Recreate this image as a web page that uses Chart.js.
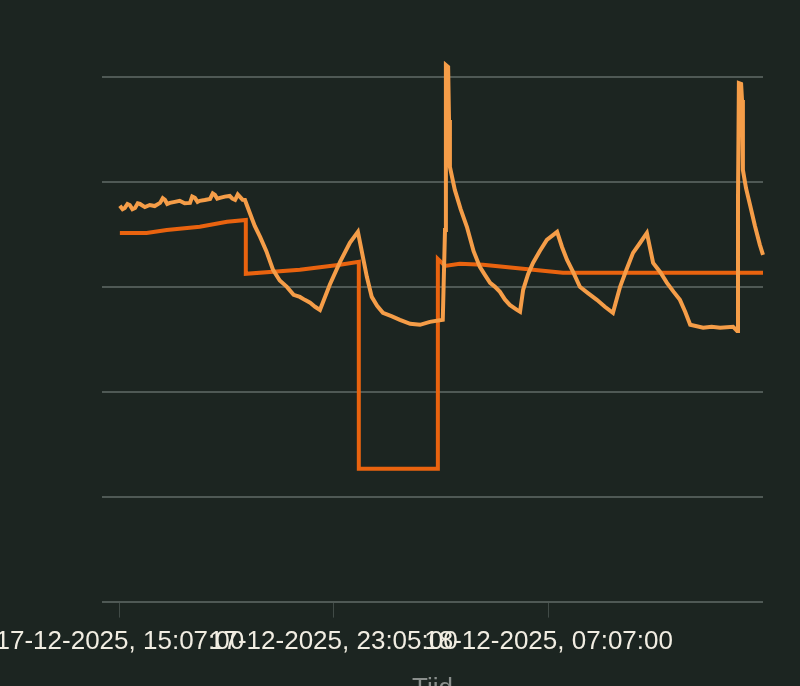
<!DOCTYPE html>
<html>
<head>
<meta charset="utf-8">
<script src="https://cdn.jsdelivr.net/npm/chart.js@4"></script>
<style>
  html, body { margin: 0; padding: 0; background: #1c2521; overflow: hidden; }
  #wrap { width: 800px; height: 706px; }
</style>
</head>
<body>
<div id="wrap"><canvas id="tempChart"></canvas></div>
<script>
// minuten sinds 17-12-2025 15:07:00
const tijdGemeten = [0, 6, 11, 17, 22, 28, 34, 40, 45, 56, 67, 78, 90, 96, 101, 106, 112, 123, 134, 145, 157, 162, 168, 174, 179, 190, 202, 208, 213, 218, 224, 235, 246, 252, 258, 264, 269, 275, 280,
    291, 302, 314, 328, 343, 358, 374, 389, 403, 414, 426, 437, 448, 470, 493, 515, 533, 553, 564, 576, 589, 608, 627,
    650, 672, 694, 723, 728, 730, 735, 737, 739, 750, 763, 777, 792, 806, 818, 829, 840, 851, 862, 873, 889, 896, 903,
    914, 925, 940, 956, 979, 990, 1001, 1015, 1030, 1048, 1068, 1086, 1104, 1120, 1134, 1149, 1165, 1180, 1194, 1210,
    1225, 1240, 1254, 1266, 1277, 1306, 1325, 1344, 1373, 1382, 1384, 1386, 1391, 1393, 1395, 1402, 1411, 1422, 1433, 1440];
const temperatuur = [18.86, 18.70, 18.76, 18.95, 18.90, 18.70, 18.76, 18.98, 18.95, 18.80, 18.90, 18.85, 19.00, 19.22, 19.14, 18.95, 19.00, 19.05, 19.10, 18.98, 19.00, 19.30, 19.24, 19.05, 19.10, 19.14, 19.19, 19.45, 19.38, 19.20, 19.24, 19.30, 19.33, 19.20, 19.14, 19.40, 19.29, 19.15, 19.14,
    18.52, 17.90, 17.38, 16.70, 15.81, 15.30, 15.00, 14.62, 14.52, 14.38, 14.24, 14.05, 13.90, 15.10, 16.19, 17.10, 17.62, 15.48, 14.52, 14.10, 13.76, 13.60, 13.43,
    13.24, 13.19, 13.33, 13.43, 17.71, 25.57, 25.48, 22.95, 20.71, 19.62, 18.70, 17.86, 16.70, 15.95, 15.55, 15.19, 15.00, 14.76, 14.40, 14.14, 13.90, 13.81, 14.86,
    15.60, 16.14, 16.70, 17.24, 17.62, 16.90, 16.29, 15.70, 15.00, 14.70, 14.38, 14.05, 13.76, 15.00, 15.80, 16.62, 17.10, 17.57, 16.14, 15.70,
    15.19, 14.76, 14.38, 13.80, 13.19, 13.05, 13.10, 13.05, 13.10, 12.90, 19.14, 24.71, 24.67, 23.90, 20.57, 19.70, 18.90, 17.90, 17.00, 16.52];

const tijdSetpoint = [0, 60, 105, 179, 240, 282, 282, 403, 493, 535, 535, 712, 712, 728, 761, 813, 925, 992, 1440];
const setpoint = [17.57, 17.57, 17.71, 17.86, 18.10, 18.19, 15.62, 15.81, 16.05, 16.19, 6.33, 6.33, 16.33, 16.00, 16.10, 16.05, 15.81, 15.67, 15.67];

const tickMinuten = [0, 478, 960];
const tickLabels = ['17-12-2025, 15:07:00', '17-12-2025, 23:05:00', '18-12-2025, 07:07:00'];

const gemeten = tijdGemeten.map((t, i) => ({ x: t, y: temperatuur[i] }));
const ingesteld = tijdSetpoint.map((t, i) => ({ x: t, y: setpoint[i] }));

new Chart(document.getElementById('tempChart'), {
    type: 'line',
    data: {
        datasets: [{
            label: 'Temperatuur',
            data: gemeten,
            borderColor: '#f59d48',
            borderWidth: 4,
            pointRadius: 0,
            clip: false,
        }, {
            label: 'Setpoint',
            data: ingesteld,
            borderColor: '#e9630f',
            borderWidth: 4,
            pointRadius: 0,
        }]
    },
    options: {
        responsive: true,
        maintainAspectRatio: false,
        animation: false,
        layout: {
            padding: { left: 102, right: 37, top: 77, bottom: 0 }
        },
        plugins: {
            legend: { display: false },
            tooltip: { enabled: false }
        },
        scales: {
            x: {
                type: 'linear',
                min: -40,
                max: 1440,
                afterBuildTicks: (scale) => {
                    scale.ticks = tickMinuten.map(v => ({ value: v }));
                },
                afterFit: (scale) => {
                    scale.paddingLeft = 0;
                    scale.paddingRight = 0;
                },
                ticks: {
                    autoSkip: false,
                    maxRotation: 0,
                    padding: 9,
                    color: '#f1ede2',
                    font: { family: '"Liberation Sans", Arial, sans-serif', size: 26 },
                    callback: (value) => tickLabels[tickMinuten.indexOf(value)]
                },
                grid: {
                    drawOnChartArea: false,
                    drawTicks: true,
                    tickLength: 16,
                    color: '#414b47',
                    lineWidth: 1
                },
                border: { display: false },
                title: {
                    display: true,
                    text: 'Tijd',
                    color: '#8a8f8c',
                    padding: { top: 6, bottom: 2 },
                    font: { family: '"Liberation Sans", Arial, sans-serif', size: 26 }
                }
            },
            y: {
                min: 0,
                max: 25,
                ticks: { display: false, stepSize: 5 },
                grid: {
                    drawTicks: false,
                    color: '#4f5955',
                    lineWidth: 2
                },
                border: { display: false }
            }
        }
    }
});
</script>
</body>
</html>
